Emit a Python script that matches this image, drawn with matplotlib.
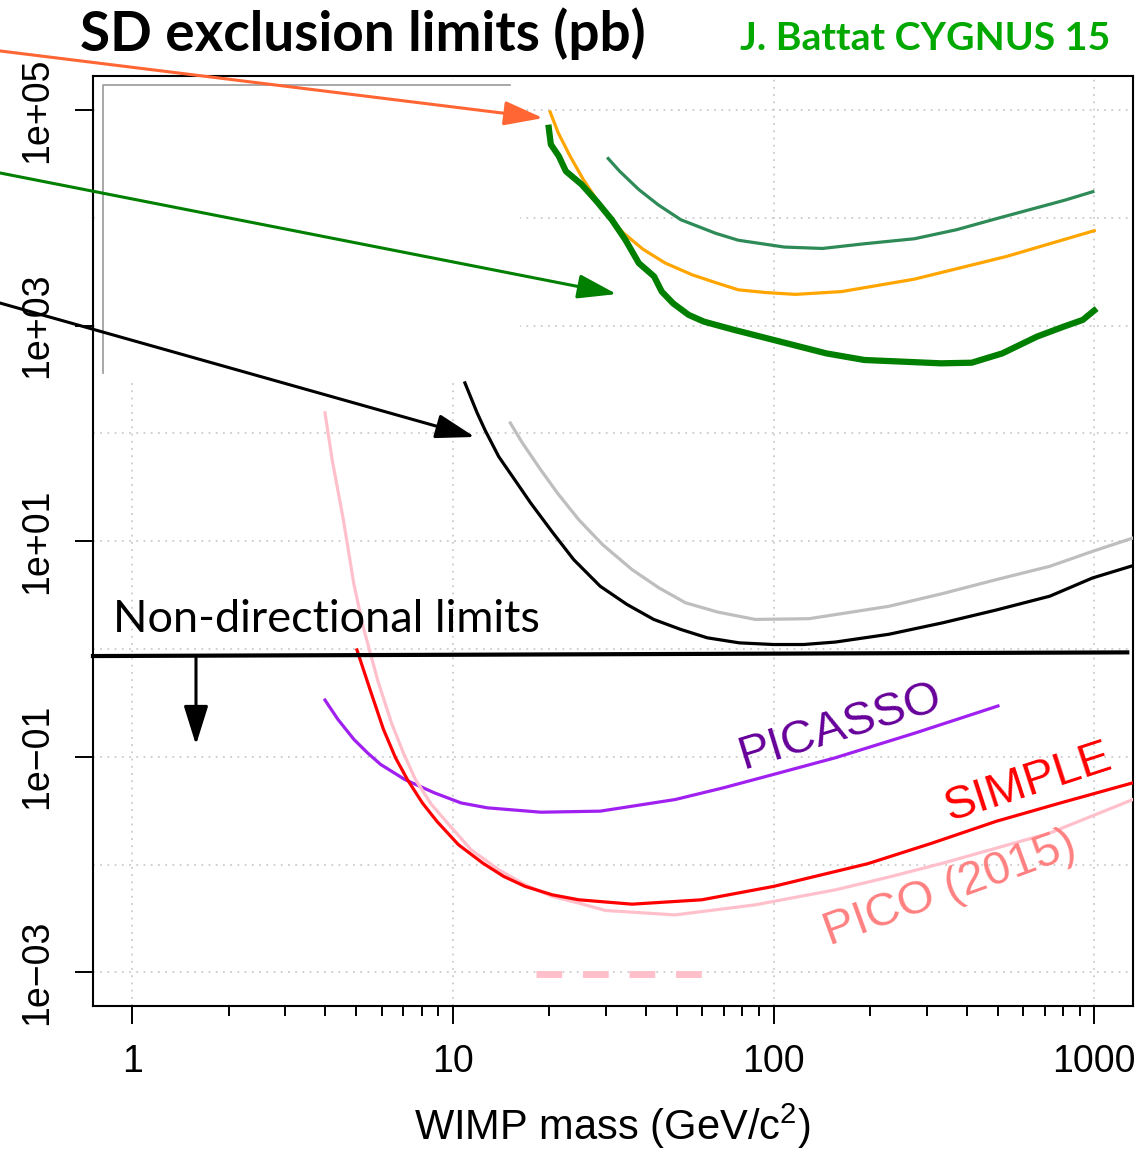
import matplotlib
matplotlib.use('agg')
import matplotlib.pyplot as plt
import matplotlib.ticker
from matplotlib.patches import Rectangle
from matplotlib.lines import Line2D

plt.rcParams['font.family'] = ['Liberation Sans', 'DejaVu Sans']
plt.rcParams['mathtext.default'] = 'regular'

# --- data (WIMP mass in GeV/c^2, cross section in pb) ---
dir_orange_x = [20.1, 21.3, 23.2, 25.5, 28.1, 30.9, 34.1, 39.1, 46, 55.8, 65.9, 77.6, 94.2,
                117, 163, 275, 532, 1000]
dir_orange_y = [9.6e4, 6.15e4, 3.73e4, 2.27e4, 1.47e4, 9.95e3, 7.2e3, 5.13e3, 3.8e3, 2.96e3,
                2.51e3, 2.15e3, 2.03e3, 1.95e3, 2.07e3, 2.7e3, 4.38e3, 7.6e3]

dir_seagreen_x = [30.5, 33.1, 38, 43.7, 51.4, 65.9, 77.6, 108, 142, 192, 275, 372, 503, 804,
                  991]
dir_seagreen_y = [3.55e4, 2.71e4, 1.83e4, 1.32e4, 9.6e3, 7.2e3, 6.2e3, 5.36e3, 5.2e3, 5.75e3,
                  6.4e3, 7.76e3, 9.95e3, 1.45e4, 1.75e4]

dir_green_x = [19.9, 20.2, 21.4, 22.5, 25.2, 28.1, 31.3, 34.5, 38, 42.4, 44.8, 48.6, 54.3, 60.6,
               75.5, 105, 146, 192, 333, 415, 517, 663, 804, 921, 1000]
dir_green_y = [6.85e4, 4.8e4, 3.73e4, 2.71e4, 2.04e4, 1.42e4, 9.6e3, 6.26e3, 3.8e3, 2.86e3,
               2.07e3, 1.61e3, 1.26e3, 1.09e3, 912, 710, 553, 480, 447, 453, 553, 791, 980,
               1130, 1380]

dir_black_x = [10.9, 11.9, 12.6, 13.9, 15.6, 17.5, 20.4, 23.8, 28.8, 34.9, 42.3, 51.3, 62.1,
               78.2, 100, 124, 156, 229, 337, 495, 727, 988, 1320]
dir_black_y = [294, 155, 107, 60.8, 37, 22.5, 12.2, 6.75, 3.82, 2.59, 1.88, 1.52, 1.27, 1.14,
               1.10, 1.10, 1.16, 1.37, 1.75, 2.30, 3.09, 4.56, 5.93]

dir_gray_x = [15.1, 16.5, 18.8, 21.2, 24.7, 29.3, 36.2, 43.9, 53.2, 67, 87.7, 129, 229, 337,
              495, 727, 988, 1320]
dir_gray_y = [125, 80.9, 45.8, 27.9, 15.8, 9.29, 5.45, 3.69, 2.68, 2.20, 1.88, 1.91, 2.49, 3.27,
              4.40, 5.85, 8.05, 10.7]

picasso_x = [3.99, 4.38, 4.91, 5.41, 5.95, 7.08, 8.75, 10.6, 12.8, 18.8, 28.8, 49.3, 69.7, 100,
             156, 278, 501]
picasso_y = [0.336, 0.222, 0.145, 0.109, 0.0849, 0.0615, 0.0463, 0.0373, 0.0336, 0.0306, 0.0313,
             0.0401, 0.0515, 0.0686, 0.098, 0.167, 0.296]

simple_x = [5.02, 5.51, 6.07, 6.62, 7.21, 8.03, 8.91, 10.4, 12.4, 14.4, 16.8, 20.4, 24.7, 36.2,
            59.7, 100, 197, 312, 495, 785, 1320]
simple_y = [0.98, 0.423, 0.18, 0.098, 0.0615, 0.0373, 0.0252, 0.0153, 0.0103, 7.76e-3, 6.27e-3,
            5.24e-3, 4.71e-3, 4.29e-3, 4.71e-3, 6.27e-3, 0.0102, 0.0158, 0.0252, 0.0373, 0.0573]

pico_x = [3.99, 4.21, 4.55, 4.91, 5.25, 5.84, 6.43, 7.0, 7.64, 8.57, 9.81, 11.4, 13.9, 16.8,
          20.4, 24.7, 29.9, 49.3, 87.7, 156, 229, 337, 495, 727, 1320]
pico_y = [155, 55, 16, 4.0, 1.6, 0.5, 0.207, 0.109, 0.0615, 0.0361, 0.0227, 0.0137, 8.95e-3,
          6.49e-3, 5.06e-3, 4.39e-3, 3.75e-3, 3.41e-3, 4.23e-3, 5.83e-3, 7.66e-3, 0.0103, 0.0142,
          0.0196, 0.0401]

pico_dash_x = [18.1, 60.3]
pico_dash_y = [9.57e-4, 9.57e-4]

nondir_line_x = [0.754, 1268]
nondir_line_y = [0.86, 0.93]

y_ticks = [1e5, 1e3, 1e1, 1e-1, 1e-3]
y_ticklabels = ['1e+05', '1e+03', '1e+01', '1e\u221201', '1e\u221203']
y_grid = [1e4, 1e2, 1e0, 1e-2]
x_ticks = [1, 10, 100, 1000]
x_ticklabels = ['1', '10', '100', '1000']

fig = plt.figure(figsize=(11.45, 11.5), dpi=100)
ax = fig.add_axes([0.0812, 0.1252, 0.9081, 0.8087])
ax.set_xscale('log')
ax.set_yscale('log')
ax.set_xlim(0.754, 1319)
ax.set_ylim(4.87e-4, 2.07e5)

# ticks, R style
ax.set_xticks(x_ticks)
ax.set_xticklabels(x_ticklabels)
ax.xaxis.set_minor_locator(matplotlib.ticker.FixedLocator(
    [m * d for d in (1, 10, 100) for m in range(2, 10)]))
ax.xaxis.set_minor_formatter(matplotlib.ticker.NullFormatter())
ax.set_yticks(y_ticks)
ax.set_yticklabels(y_ticklabels, rotation=90, va='center')
ax.yaxis.set_minor_locator(matplotlib.ticker.FixedLocator(y_grid))
ax.yaxis.set_minor_formatter(matplotlib.ticker.NullFormatter())
ax.tick_params(axis='both', which='major', direction='out', length=13, width=1.4,
               labelsize=27, color='black')
ax.tick_params(axis='x', which='major', pad=14)
ax.tick_params(axis='y', which='major', pad=14)
ax.tick_params(axis='x', which='minor', length=7, width=1.4)
ax.tick_params(axis='y', which='minor', length=0)
for s in ax.spines.values():
    s.set_linewidth(1.5)

ax.set_axisbelow(True)
grid_style = dict(color='#cccccc', linestyle=(0, (1, 3)), linewidth=1.3)
ax.grid(axis='x', which='major', **grid_style)
ax.grid(axis='y', which='both', **grid_style)

# pasted-over patch in the top left corner
ax.add_patch(Rectangle((0.004, 0.675), 0.407, 0.321, transform=ax.transAxes,
                       facecolor='white', edgecolor='none', zorder=1))
ax.add_line(Line2D([0.0096, 0.0096, 0.401], [0.6806, 0.9903, 0.9903], transform=ax.transAxes,
                   color='#999999', lw=1.2, zorder=1.5))

# directional limits
ax.plot(dir_seagreen_x, dir_seagreen_y, color='#2e8b57', lw=2.3, zorder=3)
ax.plot(dir_orange_x, dir_orange_y, color='orange', lw=2.3, zorder=3)
ax.plot(dir_green_x, dir_green_y, color='#007f00', lw=4.5, zorder=3, solid_joinstyle='round')
ax.plot(dir_gray_x, dir_gray_y, color='#bebebe', lw=2.3, zorder=3)
ax.plot(dir_black_x, dir_black_y, color='black', lw=2.3, zorder=3)

# non-directional limits
ax.plot(picasso_x, picasso_y, color='#a020f0', lw=2.3, zorder=3)
ax.plot(pico_x, pico_y, color='pink', lw=2.3, zorder=3)
ax.plot(simple_x, simple_y, color='red', lw=2.3, zorder=3)
ax.plot(pico_dash_x, pico_dash_y, color='pink', lw=5, dashes=(3.7, 3),
        solid_capstyle='butt', dash_capstyle='butt', zorder=3)

ax.text(161, 0.189, 'PICASSO', color='#660099', fontsize=34, rotation=17,
        ha='center', va='center', rotation_mode='anchor')
ax.text(622, 0.0571, 'SIMPLE', color='red', fontsize=34, rotation=18,
        ha='center', va='center', rotation_mode='anchor')
ax.text(355, 5.94e-3, 'PICO (2015)', color='#ff8080', fontsize=34, rotation=20,
        ha='center', va='center', rotation_mode='anchor')

# separator between directional and non-directional results
ax.plot(nondir_line_x, nondir_line_y, color='black', lw=3, zorder=4, clip_on=False)
ax.text(0.87, 1.44, 'Non-directional limits', fontsize=32.5, family=['Lato', 'DejaVu Sans'],
        ha='left', va='baseline')
head = '-|>,head_length=1.6,head_width=0.5'
ax.annotate('', xy=(1.58, 0.129), xytext=(1.58, 0.86),
            arrowprops=dict(arrowstyle=head, mutation_scale=15, color='black', lw=2.2,
                            shrinkA=0, shrinkB=0))

# arrows coming in from the left margin
for tip, start, col in [((19.1, 8.43e4), 0.9557, '#ff6633'),
                        ((32.4, 1963), 0.8496, '#007f00'),
                        ((11.7, 92.7), 0.7365, 'black')]:
    ax.annotate('', xy=tip, xycoords='data', xytext=(0, start), textcoords='figure fraction',
                arrowprops=dict(arrowstyle=head, mutation_scale=15, color=col, lw=2.2,
                                shrinkA=0, shrinkB=0), annotation_clip=False, zorder=6)

fig.text(612 / 1145, 1 - 1140 / 1150, 'WIMP mass (GeV/c$^2$)', fontsize=30,
         ha='center', va='baseline')
fig.text(80 / 1145, 1 - 51 / 1150, 'SD exclusion limits (pb)', fontsize=39.5,
         fontweight='bold', family=['Lato', 'DejaVu Sans'], ha='left', va='baseline')
fig.text(740 / 1145, 1 - 50 / 1150, 'J. Battat CYGNUS 15', fontsize=28.3, color='#00a800',
         fontweight='bold', family=['Lato', 'DejaVu Sans'], ha='left', va='baseline')

fig.savefig('out.png', dpi=100)
